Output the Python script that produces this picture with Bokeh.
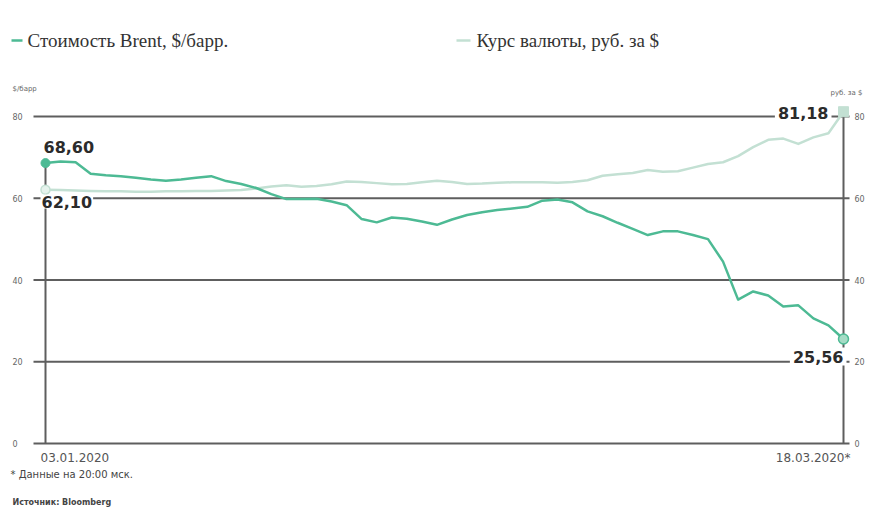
from bokeh.plotting import figure
from bokeh.models import Range1d, Label
from bokeh.embed import file_html
from bokeh.resources import INLINE
from bokeh.core.properties import value

# Brent, $/bbl, one value per trading day from 03.01.2020 to 18.03.2020
brent = [68.60, 69.0, 68.8, 66.0, 65.6, 65.4, 65.0, 64.6, 64.3, 64.6,
         65.0, 65.4, 64.2, 63.5, 62.5, 61.0, 59.8, 59.8, 59.9, 59.2,
         58.3, 54.9, 54.1, 55.3, 55.0, 54.3, 53.5, 54.8, 55.9, 56.6,
         57.1, 57.5, 57.9, 59.4, 59.7, 59.0, 56.8, 55.6, 54.0, 52.5,
         51.0, 51.9, 51.9, 51.0, 50.0, 44.5, 35.2, 37.2, 36.2, 33.5,
         33.8, 30.6, 28.9, 25.56]

# USD/RUB, roubles per dollar, same days
rub = [62.10, 62.0, 61.9, 61.8, 61.7, 61.7, 61.6, 61.6, 61.7, 61.7,
       61.8, 61.8, 61.9, 62.0, 62.4, 62.9, 63.2, 62.8, 63.0, 63.4,
       64.1, 64.0, 63.7, 63.4, 63.5, 63.9, 64.3, 64.0, 63.5, 63.6,
       63.8, 63.9, 63.9, 63.9, 63.8, 64.0, 64.4, 65.5, 65.9, 66.2,
       66.9, 66.5, 66.6, 67.5, 68.4, 68.8, 70.3, 72.5, 74.3, 74.6,
       73.3, 74.9, 75.9, 81.18]

y_ticks = [0, 20, 40, 60, 80]
x_tick_labels = ["03.01.2020", "18.03.2020*"]
legend_labels = ["Стоимость Brent, $/барр.", "Курс валюты, руб. за $"]

BRENT_COLOR = "#4dba94"
RUB_COLOR = "#c3e0d3"
GRID_COLOR = "#5e5e5e"
TEXT_COLOR = "#2b2b2b"
SANS = value("DejaVu Sans")

# canvas geometry (pixels)
W, H = 869, 519
X_FIRST, X_LAST = 45, 843
Y_ZERO, Y_EIGHTY = 443, 116

n = len(brent)
xs = (X_LAST - X_FIRST) / (n - 1)
ys = (Y_ZERO - Y_EIGHTY) / 80.0


def X(px):
    return (px - X_FIRST) / xs


def Y(py):
    return (Y_ZERO - py) / ys


def fmt(v):
    return f"{v:.2f}".replace(".", ",")


days = list(range(n))

p = figure(width=W, height=H,
           x_range=Range1d(X(0), X(W)), y_range=Range1d(Y(H), Y(0)),
           x_axis_location=None, y_axis_location=None,
           toolbar_location=None, output_backend="svg",
           min_border=0, outline_line_color=None)
p.grid.visible = False
p.background_fill_color = "white"
p.border_fill_color = "white"

# horizontal grid
p.segment(x0=[X(33)] * len(y_ticks), x1=[X(849)] * len(y_ticks),
          y0=y_ticks, y1=y_ticks, line_color=GRID_COLOR, line_width=2)

# tick labels on both sides
for px in (12, 854):
    p.text(x=[X(px)] * len(y_ticks), y=y_ticks, text=[str(t) for t in y_ticks],
           text_align="left", text_baseline="middle", text_font=SANS,
           text_font_size="8px", text_color="#666666")

# unit captions
p.text(x=[X(12)], y=[Y(88)], text=["$/барр"], text_align="left",
       text_baseline="middle", text_font=SANS, text_font_size="7px",
       text_color="#666666")
p.text(x=[X(862)], y=[Y(92)], text=["руб. за $"], text_align="right",
       text_baseline="middle", text_font=SANS, text_font_size="7px",
       text_color="#666666")

# drop lines at the first and last day
p.segment(x0=[days[0], days[-1]], x1=[days[0], days[-1]], y0=[0, 0],
          y1=[brent[0], rub[-1]], line_color=GRID_COLOR, line_width=2)

# value callouts; the white backing breaks the lines beneath them
base = dict(text_font="DejaVu Sans", text_font_style="bold",
            text_font_size="16px", text_color=TEXT_COLOR,
            text_baseline="middle")
p.add_layout(Label(x=X(39), y=Y(146), text=fmt(brent[0]), text_align="left",
                   padding=4, **base))
p.add_layout(Label(x=X(40), y=Y(201), text=fmt(rub[0]), text_align="left",
                   padding=1, background_fill_color="white", **base))
p.add_layout(Label(x=X(831), y=Y(112), text=fmt(rub[-1]), text_align="right",
                   padding=3, background_fill_color="white", **base))
p.add_layout(Label(x=X(846), y=Y(356), text=fmt(brent[-1]), text_align="right",
                   padding=3, background_fill_color="white", **base))

# series
p.line(days, rub, line_color=RUB_COLOR, line_width=2.5, line_join="round")
p.line(days, brent, line_color=BRENT_COLOR, line_width=2.5, line_join="round")

p.scatter([days[0]], [rub[0]], size=9, fill_color="#e6f3ed",
          line_color=RUB_COLOR, line_width=1.5)
p.scatter([days[-1]], [rub[-1]], marker="square", size=10,
          fill_color=RUB_COLOR, line_color=RUB_COLOR)
p.scatter([days[0]], [brent[0]], size=9, fill_color=BRENT_COLOR,
          line_color=BRENT_COLOR)
p.scatter([days[-1]], [brent[-1]], size=10, fill_color="#a6dcc6",
          line_color=BRENT_COLOR, line_width=1.5)

# date labels at the ends of the x span
p.text(x=[days[0]], y=[Y(457)], text=[x_tick_labels[0]], x_offset=-5,
       text_align="left", text_baseline="middle", text_font=SANS,
       text_font_size="12px", text_color="#555555")
p.text(x=[days[-1]], y=[Y(457)], text=[x_tick_labels[1]], x_offset=7,
       text_align="right", text_baseline="middle", text_font=SANS,
       text_font_size="12px", text_color="#555555")

# legend
p.segment(x0=[X(11), X(456)], x1=[X(22), X(470)], y0=[Y(40), Y(40)],
          y1=[Y(40), Y(40)], line_color=[BRENT_COLOR, RUB_COLOR], line_width=2.5)
p.text(x=[X(27), X(476)], y=[Y(40), Y(40)], text=legend_labels,
       text_align="left", text_baseline="middle",
       text_font=value("Liberation Serif"), text_font_size="19px",
       text_color="#333333")

# footnotes
p.text(x=[X(10)], y=[Y(474)], text=["* Данные на 20:00 мск."],
       text_align="left", text_baseline="middle", text_font=SANS,
       text_font_size="10px", text_color="#444444")
p.text(x=[X(12)], y=[Y(502)], text=["Источник: Bloomberg"],
       text_align="left", text_baseline="middle", text_font=SANS,
       text_font_size="8px", text_font_style="bold", text_color="#444444")

open("out.html", "w").write(file_html(p, INLINE))
